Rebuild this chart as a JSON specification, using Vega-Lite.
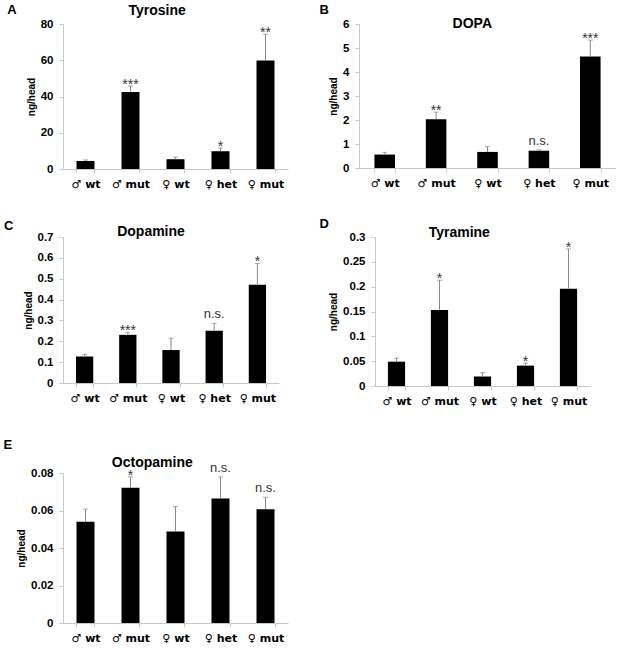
{
  "$schema": "https://vega.github.io/schema/vega-lite/v6.json",
  "padding": {"left": 3, "top": 4, "right": 0, "bottom": 0},
  "background": "white",
  "config": {
    "font": "Liberation Sans",
    "view": {"stroke": null},
    "axisY": {"grid": false, "minExtent": 0, "domainColor": "#c8c8c8", "tickColor": "#c8c8c8", "tickSize": 4, "labelFontSize": 11.5, "labelFontWeight": "bold", "labelColor": "#000", "labelPadding": 6, "labelOverlap": false, "titleFontSize": 10, "titleFontWeight": "bold", "titleColor": "#000", "titlePadding": 4},
    "axisX": {"grid": false, "domainColor": "#c8c8c8", "tickColor": "#c8c8c8", "tickSize": 4, "tickBand": "extent", "labelAngle": 0, "labelFont": "DejaVu Sans", "labelFontSize": 11, "labelFontWeight": "bold", "labelColor": "#000", "labelPadding": 5, "title": null},
    "title": {"fontSize": 14, "fontWeight": "bold", "color": "#000"}
  },
  "datasets": {
    "tyrosine": [
      {"group": "♂ wt", "mean": 4.4, "upper": 5.0, "sig": ""},
      {"group": "♂ mut", "mean": 42.5, "upper": 45.8, "sig": "***"},
      {"group": "♀ wt", "mean": 5.4, "upper": 6.5, "sig": ""},
      {"group": "♀ het", "mean": 9.8, "upper": 11.6, "sig": "*"},
      {"group": "♀ mut", "mean": 59.8, "upper": 74.3, "sig": "**"}
    ],
    "dopa": [
      {"group": "♂ wt", "mean": 0.56, "upper": 0.65, "sig": ""},
      {"group": "♂ mut", "mean": 2.03, "upper": 2.33, "sig": "**"},
      {"group": "♀ wt", "mean": 0.67, "upper": 0.9, "sig": ""},
      {"group": "♀ het", "mean": 0.72, "upper": 0.76, "sig": "n.s."},
      {"group": "♀ mut", "mean": 4.65, "upper": 5.33, "sig": "***"}
    ],
    "dopamine": [
      {"group": "♂ wt", "mean": 0.127, "upper": 0.137, "sig": ""},
      {"group": "♂ mut", "mean": 0.231, "upper": 0.243, "sig": "***"},
      {"group": "♀ wt", "mean": 0.158, "upper": 0.215, "sig": ""},
      {"group": "♀ het", "mean": 0.251, "upper": 0.286, "sig": "n.s."},
      {"group": "♀ mut", "mean": 0.471, "upper": 0.573, "sig": "*"}
    ],
    "tyramine": [
      {"group": "♂ wt", "mean": 0.049, "upper": 0.056, "sig": ""},
      {"group": "♂ mut", "mean": 0.153, "upper": 0.213, "sig": "*"},
      {"group": "♀ wt", "mean": 0.019, "upper": 0.027, "sig": ""},
      {"group": "♀ het", "mean": 0.041, "upper": 0.046, "sig": "*"},
      {"group": "♀ mut", "mean": 0.196, "upper": 0.276, "sig": "*"}
    ],
    "octopamine": [
      {"group": "♂ wt", "mean": 0.054, "upper": 0.0607, "sig": ""},
      {"group": "♂ mut", "mean": 0.0721, "upper": 0.0779, "sig": "*"},
      {"group": "♀ wt", "mean": 0.0488, "upper": 0.0621, "sig": ""},
      {"group": "♀ het", "mean": 0.0664, "upper": 0.0779, "sig": "n.s."},
      {"group": "♀ mut", "mean": 0.0607, "upper": 0.0671, "sig": "n.s."}
    ]
  },
  "concat": [
    {
      "concat": [
        {
          "title": {"text": "A", "anchor": "start", "fontSize": 13, "offset": 0, "dx": -19, "dy": 13},
          "vconcat": [
            {
              "width": 225, "height": 145,
              "data": {"name": "tyrosine"},
              "title": {"text": "Tyrosine", "frame": "bounds", "anchor": "middle", "offset": 0},
              "encoding": {"x": {"field": "group", "type": "nominal", "sort": null, "scale": {"paddingInner": 0.6, "paddingOuter": 0.3}}},
              "layer": [
                {"mark": {"type": "bar", "color": "#000"}, "encoding": {"y": {"field": "mean", "type": "quantitative", "scale": {"domain": [0, 80], "nice": false}, "axis": {"values": [0, 20, 40, 60, 80], "format": "d", "title": "ng/head"}}}},
                {"mark": {"type": "rule", "color": "#888", "strokeWidth": 1}, "encoding": {"y": {"field": "mean", "type": "quantitative", "axis": {"values": [0, 20, 40, 60, 80], "format": "d", "title": "ng/head"}}, "y2": {"field": "upper"}}},
                {"mark": {"type": "tick", "color": "#888", "size": 5, "thickness": 1}, "encoding": {"y": {"field": "upper", "type": "quantitative", "axis": {"values": [0, 20, 40, 60, 80], "format": "d", "title": "ng/head"}}}},
                {"transform": [{"filter": "datum.sig != '' && datum.sig != 'n.s.'"}], "mark": {"type": "text", "baseline": "alphabetic", "dy": 3, "fontSize": 14, "color": "#333"}, "encoding": {"y": {"field": "upper", "type": "quantitative", "axis": {"values": [0, 20, 40, 60, 80], "format": "d", "title": "ng/head"}}, "text": {"field": "sig"}}},
                {"transform": [{"filter": "datum.sig == 'n.s.'"}], "mark": {"type": "text", "baseline": "alphabetic", "dy": -5, "fontSize": 13, "color": "#333"}, "encoding": {"y": {"field": "upper", "type": "quantitative", "axis": {"values": [0, 20, 40, 60, 80], "format": "d", "title": "ng/head"}}, "text": {"field": "sig"}}}
              ]
            }
          ]
        },
        {
          "title": {"text": "B", "anchor": "start", "fontSize": 13, "offset": 0, "dx": -9, "dy": 0},
          "vconcat": [
            {
              "width": 257, "height": 144,
              "data": {"name": "dopa"},
              "title": {"text": "DOPA", "frame": "bounds", "anchor": "middle", "offset": -13},
              "encoding": {"x": {"field": "group", "type": "nominal", "sort": null, "scale": {"paddingInner": 0.6, "paddingOuter": 0.3}}},
              "layer": [
                {"mark": {"type": "bar", "color": "#000"}, "encoding": {"y": {"field": "mean", "type": "quantitative", "scale": {"domain": [0, 6], "nice": false}, "axis": {"values": [0, 1, 2, 3, 4, 5, 6], "format": "d", "title": "ng/head"}}}},
                {"mark": {"type": "rule", "color": "#888", "strokeWidth": 1}, "encoding": {"y": {"field": "mean", "type": "quantitative", "axis": {"values": [0, 1, 2, 3, 4, 5, 6], "format": "d", "title": "ng/head"}}, "y2": {"field": "upper"}}},
                {"mark": {"type": "tick", "color": "#888", "size": 5, "thickness": 1}, "encoding": {"y": {"field": "upper", "type": "quantitative", "axis": {"values": [0, 1, 2, 3, 4, 5, 6], "format": "d", "title": "ng/head"}}}},
                {"transform": [{"filter": "datum.sig != '' && datum.sig != 'n.s.'"}], "mark": {"type": "text", "baseline": "alphabetic", "dy": 3, "fontSize": 14, "color": "#333"}, "encoding": {"y": {"field": "upper", "type": "quantitative", "axis": {"values": [0, 1, 2, 3, 4, 5, 6], "format": "d", "title": "ng/head"}}, "text": {"field": "sig"}}},
                {"transform": [{"filter": "datum.sig == 'n.s.'"}], "mark": {"type": "text", "baseline": "alphabetic", "dy": -5, "fontSize": 13, "color": "#333"}, "encoding": {"y": {"field": "upper", "type": "quantitative", "axis": {"values": [0, 1, 2, 3, 4, 5, 6], "format": "d", "title": "ng/head"}}, "text": {"field": "sig"}}}
              ]
            }
          ]
        }
      ],
      "align": "none",
      "spacing": 31
    },
    {
      "concat": [
        {
          "concat": [
            {
              "title": {"text": "C", "anchor": "start", "fontSize": 13, "offset": 0, "dx": -19, "dy": 8},
              "vconcat": [
                {
                  "width": 216, "height": 146,
                  "data": {"name": "dopamine"},
                  "title": {"text": "Dopamine", "frame": "bounds", "anchor": "middle", "offset": -8},
                  "encoding": {"x": {"field": "group", "type": "nominal", "sort": null, "scale": {"paddingInner": 0.6, "paddingOuter": 0.3}}},
                  "layer": [
                    {"mark": {"type": "bar", "color": "#000"}, "encoding": {"y": {"field": "mean", "type": "quantitative", "scale": {"domain": [0, 0.7], "nice": false}, "axis": {"values": [0, 0.1, 0.2, 0.3, 0.4, 0.5, 0.6, 0.7], "format": ".1~f", "title": "ng/head"}}}},
                    {"mark": {"type": "rule", "color": "#888", "strokeWidth": 1}, "encoding": {"y": {"field": "mean", "type": "quantitative", "axis": {"values": [0, 0.1, 0.2, 0.3, 0.4, 0.5, 0.6, 0.7], "format": ".1~f", "title": "ng/head"}}, "y2": {"field": "upper"}}},
                    {"mark": {"type": "tick", "color": "#888", "size": 5, "thickness": 1}, "encoding": {"y": {"field": "upper", "type": "quantitative", "axis": {"values": [0, 0.1, 0.2, 0.3, 0.4, 0.5, 0.6, 0.7], "format": ".1~f", "title": "ng/head"}}}},
                    {"transform": [{"filter": "datum.sig != '' && datum.sig != 'n.s.'"}], "mark": {"type": "text", "baseline": "alphabetic", "dy": 3, "fontSize": 14, "color": "#333"}, "encoding": {"y": {"field": "upper", "type": "quantitative", "axis": {"values": [0, 0.1, 0.2, 0.3, 0.4, 0.5, 0.6, 0.7], "format": ".1~f", "title": "ng/head"}}, "text": {"field": "sig"}}},
                    {"transform": [{"filter": "datum.sig == 'n.s.'"}], "mark": {"type": "text", "baseline": "alphabetic", "dy": -5, "fontSize": 13, "color": "#333"}, "encoding": {"y": {"field": "upper", "type": "quantitative", "axis": {"values": [0, 0.1, 0.2, 0.3, 0.4, 0.5, 0.6, 0.7], "format": ".1~f", "title": "ng/head"}}, "text": {"field": "sig"}}}
                  ]
                }
              ]
            },
            {
              "title": {"text": "D", "anchor": "start", "fontSize": 13, "offset": 0, "dx": -9, "dy": 5},
              "vconcat": [
                {
                  "width": 215, "height": 149,
                  "data": {"name": "tyramine"},
                  "title": {"text": "Tyramine", "frame": "bounds", "anchor": "middle", "offset": -9},
                  "encoding": {"x": {"field": "group", "type": "nominal", "sort": null, "scale": {"paddingInner": 0.6, "paddingOuter": 0.3}}},
                  "layer": [
                    {"mark": {"type": "bar", "color": "#000"}, "encoding": {"y": {"field": "mean", "type": "quantitative", "scale": {"domain": [0, 0.3], "nice": false}, "axis": {"values": [0, 0.05, 0.1, 0.15, 0.2, 0.25, 0.3], "format": ".2~f", "title": "ng/head"}}}},
                    {"mark": {"type": "rule", "color": "#888", "strokeWidth": 1}, "encoding": {"y": {"field": "mean", "type": "quantitative", "axis": {"values": [0, 0.05, 0.1, 0.15, 0.2, 0.25, 0.3], "format": ".2~f", "title": "ng/head"}}, "y2": {"field": "upper"}}},
                    {"mark": {"type": "tick", "color": "#888", "size": 5, "thickness": 1}, "encoding": {"y": {"field": "upper", "type": "quantitative", "axis": {"values": [0, 0.05, 0.1, 0.15, 0.2, 0.25, 0.3], "format": ".2~f", "title": "ng/head"}}}},
                    {"transform": [{"filter": "datum.sig != '' && datum.sig != 'n.s.'"}], "mark": {"type": "text", "baseline": "alphabetic", "dy": 3, "fontSize": 14, "color": "#333"}, "encoding": {"y": {"field": "upper", "type": "quantitative", "axis": {"values": [0, 0.05, 0.1, 0.15, 0.2, 0.25, 0.3], "format": ".2~f", "title": "ng/head"}}, "text": {"field": "sig"}}},
                    {"transform": [{"filter": "datum.sig == 'n.s.'"}], "mark": {"type": "text", "baseline": "alphabetic", "dy": -5, "fontSize": 13, "color": "#333"}, "encoding": {"y": {"field": "upper", "type": "quantitative", "axis": {"values": [0, 0.05, 0.1, 0.15, 0.2, 0.25, 0.3], "format": ".2~f", "title": "ng/head"}}, "text": {"field": "sig"}}}
                  ]
                }
              ]
            }
          ],
          "align": "none",
          "spacing": 40
        },
        {
          "concat": [
            {
              "title": {"text": "E", "anchor": "start", "fontSize": 13, "offset": 0, "dx": -13, "dy": -4},
              "vconcat": [
                {
                  "width": 225, "height": 150,
                  "data": {"name": "octopamine"},
                  "title": {"text": "Octopamine", "frame": "bounds", "anchor": "middle", "offset": -8},
                  "encoding": {"x": {"field": "group", "type": "nominal", "sort": null, "scale": {"paddingInner": 0.6, "paddingOuter": 0.3}}},
                  "layer": [
                    {"mark": {"type": "bar", "color": "#000"}, "encoding": {"y": {"field": "mean", "type": "quantitative", "scale": {"domain": [0, 0.08], "nice": false}, "axis": {"values": [0, 0.02, 0.04, 0.06, 0.08], "format": ".2~f", "title": "ng/head"}}}},
                    {"mark": {"type": "rule", "color": "#888", "strokeWidth": 1}, "encoding": {"y": {"field": "mean", "type": "quantitative", "axis": {"values": [0, 0.02, 0.04, 0.06, 0.08], "format": ".2~f", "title": "ng/head"}}, "y2": {"field": "upper"}}},
                    {"mark": {"type": "tick", "color": "#888", "size": 5, "thickness": 1}, "encoding": {"y": {"field": "upper", "type": "quantitative", "axis": {"values": [0, 0.02, 0.04, 0.06, 0.08], "format": ".2~f", "title": "ng/head"}}}},
                    {"transform": [{"filter": "datum.sig != '' && datum.sig != 'n.s.'"}], "mark": {"type": "text", "baseline": "alphabetic", "dy": 3, "fontSize": 14, "color": "#333"}, "encoding": {"y": {"field": "upper", "type": "quantitative", "axis": {"values": [0, 0.02, 0.04, 0.06, 0.08], "format": ".2~f", "title": "ng/head"}}, "text": {"field": "sig"}}},
                    {"transform": [{"filter": "datum.sig == 'n.s.'"}], "mark": {"type": "text", "baseline": "alphabetic", "dy": -5, "fontSize": 13, "color": "#333"}, "encoding": {"y": {"field": "upper", "type": "quantitative", "axis": {"values": [0, 0.02, 0.04, 0.06, 0.08], "format": ".2~f", "title": "ng/head"}}, "text": {"field": "sig"}}}
                  ]
                }
              ]
            }
          ],
          "align": "none"
        }
      ],
      "columns": 1,
      "align": "none",
      "spacing": 32
    }
  ],
  "columns": 1,
  "align": "none",
  "spacing": 29
}
